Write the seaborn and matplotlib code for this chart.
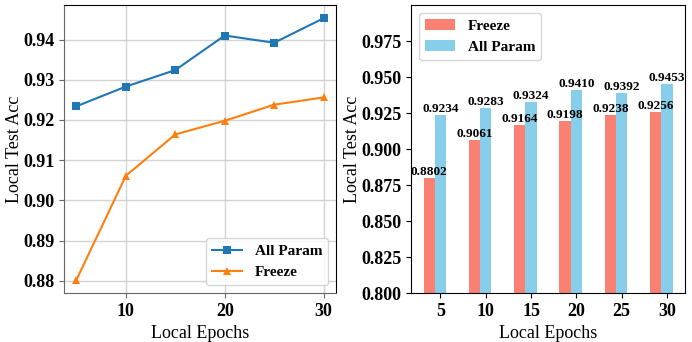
import numpy as np
import pandas as pd
import matplotlib
matplotlib.use("Agg")
import matplotlib.pyplot as plt
import seaborn as sns

plt.rcParams["font.family"] = ["Liberation Serif", "DejaVu Serif"]

epochs = [5, 10, 15, 20, 25, 30]
all_param = [0.9234, 0.9283, 0.9324, 0.9410, 0.9392, 0.9453]
freeze = [0.8802, 0.9061, 0.9164, 0.9198, 0.9238, 0.9256]

df = pd.DataFrame({"epochs": epochs, "All Param": all_param, "Freeze": freeze})

fig = plt.figure(figsize=(6.92, 3.42), dpi=100)
ax1 = fig.add_axes([0.0925, 0.143, 0.393, 0.842])
ax2 = fig.add_axes([0.594, 0.143, 0.396, 0.842])

# left: line plot
sns.lineplot(data=df, x="epochs", y="All Param", marker="s", markersize=6,
             markeredgewidth=0, color="tab:blue", label="All Param", ax=ax1)
sns.lineplot(data=df, x="epochs", y="Freeze", marker="^", markersize=6,
             markeredgewidth=0, color="tab:orange", label="Freeze", ax=ax1)
ax1.grid(True, color="#d3d3d3", linewidth=1)
ax1.set_axisbelow(True)
ax1.set_xticks([10, 20, 30])
ax1.set_yticks([0.88, 0.89, 0.90, 0.91, 0.92, 0.93, 0.94])
ax1.set_yticklabels([f"{v:.2f}" for v in ax1.get_yticks()])
ax1.set_xlabel("Local Epochs", fontsize=13)
ax1.set_ylabel("Local Test Acc", fontsize=13, labelpad=0)
ax1.legend(loc="lower right", prop={"weight": "bold", "size": 11})
ax1.tick_params(color="0.4")
for sp in ("left", "bottom"):
    ax1.spines[sp].set_color("0.4")

# right: grouped bars
w = 0.25
x = np.arange(len(epochs))
b1 = ax2.bar(x - w, freeze, width=w, color="salmon", label="Freeze")
b2 = ax2.bar(x, all_param, width=w, color="skyblue", label="All Param")
for bars, vals in [(b1, freeze), (b2, all_param)]:
    for bar, v in zip(bars, vals):
        ax2.text(bar.get_x() + bar.get_width() / 2, v, f"{v:.4f}",
                 ha="center", va="bottom", fontsize=9.5, fontweight="bold")
ax2.set_ylim(0.8, 1.0)
ax2.set_yticks([0.800, 0.825, 0.850, 0.875, 0.900, 0.925, 0.950, 0.975])
ax2.set_yticklabels([f"{v:.3f}" for v in ax2.get_yticks()])
ax2.set_xticks(x)
ax2.set_xticklabels([str(e) for e in epochs])
ax2.set_xlabel("Local Epochs", fontsize=13)
ax2.set_ylabel("Local Test Acc", fontsize=13, labelpad=0)
ax2.legend(loc="upper left", prop={"weight": "bold", "size": 11})

for ax in (ax1, ax2):
    for lab in ax.get_xticklabels() + ax.get_yticklabels():
        lab.set_fontweight("bold")
        lab.set_fontsize(13)

fig.savefig("out.png", dpi=100)
